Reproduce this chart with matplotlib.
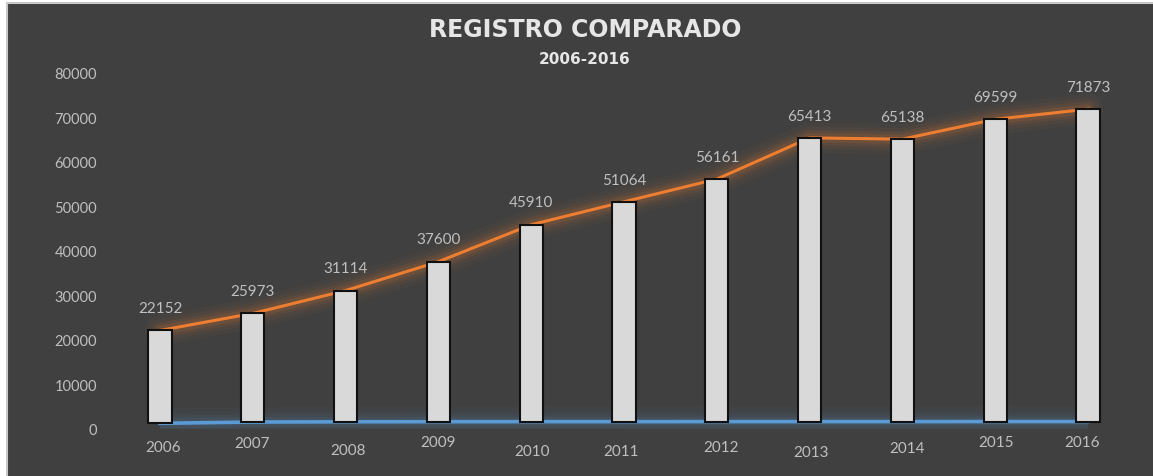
import matplotlib.pyplot as plt
from matplotlib.patches import Rectangle

years = ['2006', '2007', '2008', '2009', '2010', '2011', '2012', '2013', '2014', '2015', '2016']
registros = [22152, 25973, 31114, 37600, 45910, 51064, 56161, 65413, 65138, 69599, 71873]
comparado = [1280, 1560, 1620, 1640, 1650, 1650, 1660, 1660, 1660, 1670, 1670]

# year labels sit at slightly different heights (pixels below the blue line)
year_dy = [-24, -21, -28, -20, -29, -29, -25, -30, -26, -20, -20]
year_dx = [3, -1, 2, 0, 1, -3, 4, 1, 5, 1, -6]

BG = '#404040'
ORANGE = '#ED7D31'
BLUE = '#5B9BD5'
TXT = '#BFBFBF'

plt.rcParams['font.family'] = ['Lato', 'DejaVu Sans']

fig = plt.figure(figsize=(11.53, 4.77), dpi=100, facecolor='white')
# dark chart area with thin light frame on top/left
fig.patches.append(Rectangle((6.5 / 1153, -0.05), 1, 1.05 - 3.5 / 477, transform=fig.transFigure,
                             facecolor=BG, edgecolor='#C8C8C8', linewidth=1.5, zorder=-10))

ax = fig.add_axes([113.6 / 1153, 1 - 430 / 477, 1020.8 / 1153, (430 - 74) / 477])
ax.set_facecolor('none')
x = list(range(len(years)))

# glow around lines
for lw, a in [(22, 0.04), (16, 0.05), (11, 0.08), (7, 0.12)]:
    ax.plot(x, registros, color=ORANGE, lw=lw, alpha=a, solid_capstyle='round', zorder=1)
    ax.plot(x, comparado, color=BLUE, lw=lw, alpha=a * 0.8, solid_capstyle='butt', zorder=1)
ax.plot(x, registros, color=ORANGE, lw=2.2, zorder=2)
ax.plot(x, comparado, color=BLUE, lw=2.6, zorder=2)

heights = [r - c for r, c in zip(registros, comparado)]
ax.bar(x, heights, bottom=comparado, width=0.25, color='#D9D9D9', edgecolor='#111111',
       linewidth=1.5, zorder=3)

for xi, v in zip(x, registros):
    ax.annotate(str(v), (xi, v), xytext=(0, 16), textcoords='offset points',
                ha='center', va='center', color=TXT, fontsize=11)
for xi, c, yr, dy, dx in zip(x, comparado, years, year_dy, year_dx):
    ax.annotate(yr, (xi, c), xytext=(dx * 0.72, dy * 0.72), textcoords='offset points',
                ha='center', va='center', color=TXT, fontsize=11)

ax.set_xlim(-0.5, len(years) - 0.5)
ax.set_ylim(0, 80000)
ax.set_yticks(range(0, 80001, 10000))
ax.set_xticks([])
ax.tick_params(axis='y', length=0, pad=12, labelcolor=TXT, labelsize=10.5)
for s in ax.spines.values():
    s.set_visible(False)

fig.text(585 / 1153, 1 - 30 / 477, 'REGISTRO COMPARADO', ha='center', va='center',
         color='#E6E6E6', fontsize=17, fontweight='bold', family='DejaVu Sans')
fig.text(585 / 1153, 1 - 59 / 477, '2006-2016', ha='center', va='center',
         color='#E6E6E6', fontsize=11, fontweight='bold', family='DejaVu Sans')

fig.savefig('out.png', dpi=100, facecolor='white')
